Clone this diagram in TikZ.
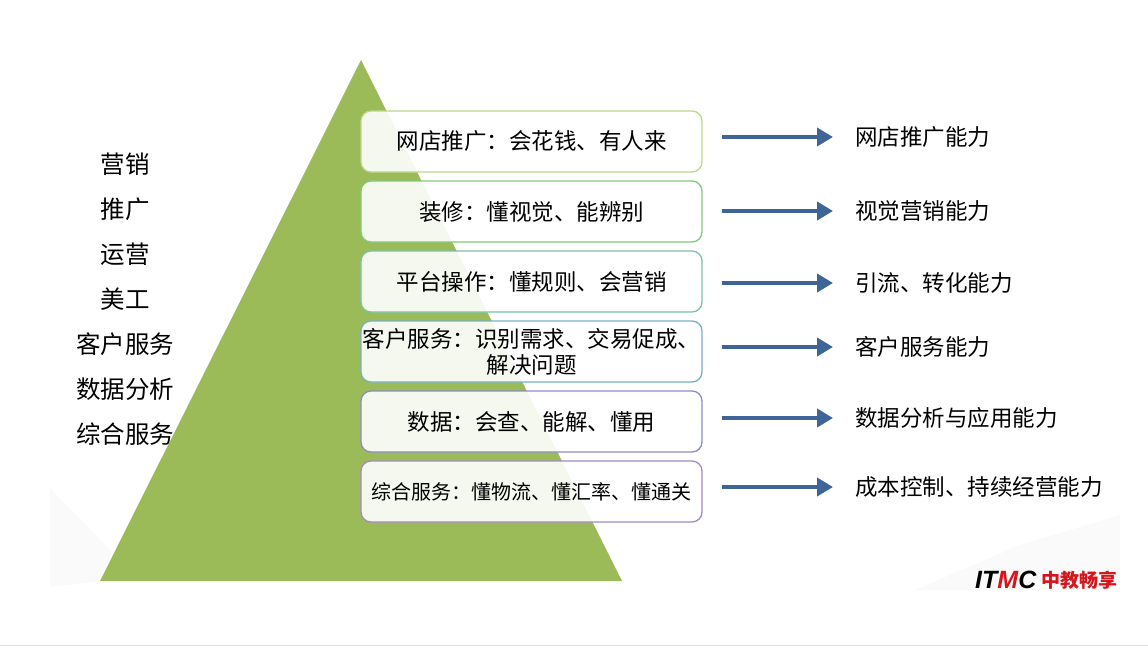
\documentclass[tikz,border=0pt]{standalone}
\usepackage{fontspec}
\setmainfont{Noto Sans CJK SC}
\newfontfamily\logofont{Liberation Sans}
\usepackage{xcolor}
\usetikzlibrary{positioning,calc,arrows.meta}
\definecolor{PyrGreen}{RGB}{155,187,89}
\definecolor{ArrBlue}{RGB}{62,100,152}
\definecolor{LogoRed}{RGB}{214,22,30}
\definecolor{Bd1}{RGB}{190,214,140}
\definecolor{Bd2}{RGB}{132,200,122}
\definecolor{Bd3}{RGB}{122,194,170}
\definecolor{Bd4}{RGB}{122,176,198}
\definecolor{Bd5}{RGB}{140,140,200}
\definecolor{Bd6}{RGB}{162,140,196}

\begin{document}
\begin{tikzpicture}[x=1pt, y=-1pt,
		layer/.style={draw, line width=1.3pt, rounded corners=10pt, fill=white, fill opacity=0.9, text opacity=1,
			minimum width=341pt, minimum height=61pt, inner sep=0pt, align=center, font=\fontsize{22.5}{26}\selectfont},
		ability/.style={anchor=west, inner sep=0pt, font=\fontsize{22.5}{26}\selectfont},
		role/.style={inner sep=0pt, font=\fontsize{24.5}{28}\selectfont},
		arr/.style={draw=ArrBlue, line width=4pt, -{Triangle[length=16pt,width=18pt]}}
		]
		\useasboundingbox (0,0) rectangle (1148,646);
		
		% ===== 背景 =====
		\fill[gray!4] (50,488) -- (112,552) -- (100,581) -- (50,587) -- cycle;
		\fill[gray!4] (915,590) -- (1020,545) -- (1120,515) -- (1120,590) -- cycle;
		\draw[gray!25] (0,645) -- (1148,645);
		
		% ===== 金字塔 =====
		\fill[PyrGreen] (361,60) -- (622,581) -- (100,581) -- cycle;
		
		% ===== 左侧岗位 =====
		\foreach \v [count=\i from 1] in {营销,推广,运营,美工,客户服务,数据分析,综合服务}{
			\node[role] (L\i) at (125,{164+(\i-1)*45}) {\v};
		}
		
		% ===== 六层 =====
		\foreach \t [count=\i from 1] in {网店推广：会花钱、有人来,装修：懂视觉、能辨别,平台操作：懂规则、会营销,
			{客户服务：识别需求、交易促成、\\解决问题},数据：会查、能解、懂用,
			{\fontsize{20}{24}\selectfont 综合服务：懂物流、懂汇率、懂通关}}{
			\node[layer, draw=Bd\i] (b\i) at (531.5,{141.5+(\i-1)*70}) {\t};
		}
		
		% ===== 右侧能力 + 箭头 =====
		\foreach \v/\y [count=\i from 1] in {网店推广能力/137,视觉营销能力/211,引流、转化能力/283,
			客户服务能力/347,数据分析与应用能力/418,成本控制、持续经营能力/487}{
			\node[ability] (r\i) at (855,\y) {\v};
			\draw[arr] ($(b\i.east |- r\i.west)+(19,0)$) -- ($(r\i.west)+(-22,0)$);
		}
		
		% ===== logo =====
		\node[anchor=west, inner sep=0pt, font=\logofont\fontsize{25}{28}\selectfont\bfseries\itshape] (logo) at (975,580)
		{IT\textcolor{LogoRed}{M}C};
		\node[right=5pt of logo, inner sep=0pt, text=LogoRed, font=\fontsize{19}{22}\selectfont\bfseries] (logoCN) {中教畅享};
		
	\end{tikzpicture}
\end{document}
